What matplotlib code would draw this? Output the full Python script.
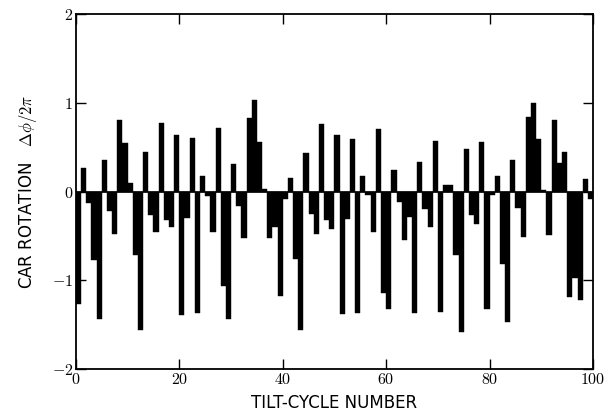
import numpy as np
import matplotlib
matplotlib.use('Agg')
import matplotlib.pyplot as plt

# car rotation per tilt cycle (in units of 2*pi)
cycles = np.arange(100)
rotation = [
    -1.27, 0.26, -0.13, -0.77, -1.44, 0.36, -0.22, -0.48, 0.81, 0.55,
    0.10, -0.72, -1.56, 0.45, -0.26, -0.46, 0.77, -0.32, -0.40, 0.64,
    -1.39, -0.30, 0.60, -1.37, 0.18, -0.05, -0.46, 0.72, -1.06, -1.44,
    0.31, -0.16, -0.52, 0.83, 1.03, 0.56, 0.03, -0.52, -0.40, -1.18,
    -0.08, 0.15, -0.76, -1.56, 0.43, -0.25, -0.48, 0.76, -0.32, -0.42,
    0.64, -1.38, -0.31, 0.59, -1.37, 0.17, -0.04, -0.46, 0.71, -1.14,
    -1.32, 0.24, -0.12, -0.55, -0.29, -1.37, 0.33, -0.20, -0.40, 0.57,
    -1.36, 0.07, 0.07, -0.71, -1.58, 0.48, -0.27, -0.37, 0.56, -1.32,
    -0.04, 0.17, -0.82, -1.47, 0.35, -0.19, -0.51, 0.84, 1.00, 0.59,
    0.02, -0.49, 0.81, 0.32, 0.44, -1.19, -0.97, -1.22, 0.14, -0.08,
]
xticks = [0, 20, 40, 60, 80, 100]
yticks = [-2, -1, 0, 1, 2]

plt.rcParams['mathtext.fontset'] = 'cm'

fig = plt.figure(figsize=(6.07, 4.15), dpi=100)
ax = fig.add_axes([0.125, 0.111, 0.852, 0.855])

ax.bar(cycles, rotation, width=1.0, align='edge', color='black', edgecolor='black', linewidth=0.3)
ax.axhline(0, color='black', lw=1.2)

ax.set_xlim(0, 100)
ax.set_ylim(-2, 2)
ax.set_xticks(xticks)
ax.set_xticklabels([r'$%d$' % t for t in xticks], fontsize=11.5)
ax.set_yticks(yticks)
ax.set_yticklabels([r'$%d$' % t for t in yticks], fontsize=11.5)
ax.tick_params(direction='in', length=7, width=1, top=True, right=True, pad=2)
for s in ax.spines.values():
    s.set_linewidth(1.3)

ax.set_xlabel('TILT-CYCLE NUMBER', fontsize=12, family='DejaVu Sans', labelpad=5)
ax.set_ylabel(r'CAR ROTATION   $\Delta\phi/2\pi$', fontsize=12, family='DejaVu Sans', labelpad=9)

fig.savefig('out.png', dpi=100)
